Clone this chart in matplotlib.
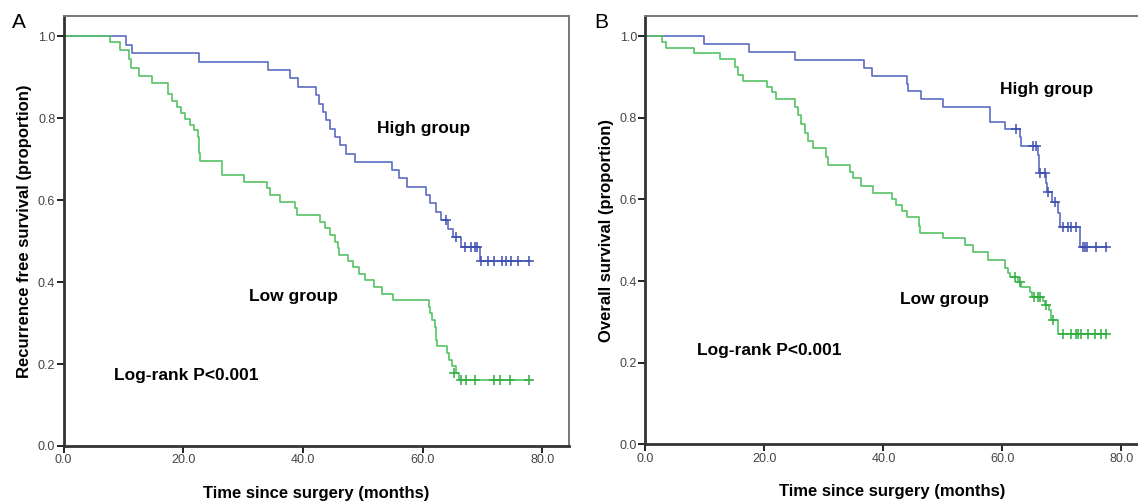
import matplotlib
matplotlib.use("Agg")
import matplotlib.pyplot as plt

plt.rcParams['font.family'] = ['Liberation Sans', 'DejaVu Sans']

# ---- Panel A: recurrence free survival ----
a_high_t = [0, 10.4, 11.5, 22.6, 34.2, 37.9, 39.1, 42.2, 42.7, 43.3, 43.9, 44.6, 45.4, 46.2,
            47.2, 48.7, 54.8, 56.1, 57.4, 60.6, 61.2, 62.2, 63.0, 64.3, 65.0, 66.4, 69.6]
a_high_s = [1.0, 0.979, 0.958, 0.937, 0.917, 0.897, 0.876, 0.856, 0.835, 0.815, 0.795, 0.774, 0.754,
            0.734, 0.713, 0.693, 0.673, 0.653, 0.633, 0.612, 0.592, 0.571, 0.551, 0.530, 0.511, 0.486, 0.452]
a_high_cens_t = [63.9, 65.6, 67.1, 68.0, 68.8, 69.1, 69.8, 70.9, 71.9, 73.2, 74.0, 74.7, 75.9, 77.8]
a_high_cens_s = [0.551, 0.511, 0.486, 0.486, 0.486, 0.486, 0.452, 0.452, 0.452, 0.452, 0.452, 0.452, 0.452, 0.452]

a_low_t = [0, 7.8, 9.5, 11.0, 11.3, 12.6, 14.7, 17.5, 18.1, 18.9, 19.7, 20.3, 21.2, 21.8, 22.4, 22.6,
           22.7, 22.8, 26.5, 30.1, 34.0, 34.5, 36.2, 38.6, 39.0, 42.9, 43.7, 44.5, 45.3, 45.9, 46.1,
           47.5, 48.4, 49.3, 50.3, 51.8, 53.2, 55.1, 61.0, 61.3, 61.6, 62.1, 62.2, 62.3, 62.4, 64.1,
           64.4, 64.9, 65.5, 66.0]
a_low_s = [1.0, 0.985, 0.967, 0.945, 0.922, 0.902, 0.886, 0.860, 0.841, 0.827, 0.812, 0.797, 0.784,
           0.770, 0.755, 0.735, 0.715, 0.695, 0.661, 0.645, 0.629, 0.612, 0.596, 0.580, 0.563, 0.547,
           0.531, 0.514, 0.498, 0.482, 0.467, 0.451, 0.436, 0.420, 0.404, 0.388, 0.372, 0.356, 0.340,
           0.324, 0.308, 0.291, 0.275, 0.259, 0.243, 0.227, 0.210, 0.194, 0.178, 0.161]
a_low_cens_t = [65.3, 66.4, 67.2, 68.7, 71.9, 72.9, 74.6, 77.8]
a_low_cens_s = [0.178, 0.161, 0.161, 0.161, 0.161, 0.161, 0.161, 0.161]

# ---- Panel B: overall survival ----
b_high_t = [0, 9.8, 17.4, 25.1, 36.7, 38.0, 44.0, 44.1, 46.4, 50.0, 57.9, 58.0, 60.4, 62.9, 63.2,
            66.0, 66.1, 66.2, 67.4, 67.5, 68.3, 69.4, 69.7, 73.0]
b_high_s = [1.0, 0.980, 0.961, 0.941, 0.922, 0.902, 0.884, 0.866, 0.847, 0.827, 0.808, 0.790, 0.772,
            0.752, 0.732, 0.710, 0.688, 0.664, 0.641, 0.619, 0.594, 0.566, 0.533, 0.484]
b_high_cens_t = [62.3, 65.2, 65.7, 66.3, 67.2, 67.7, 68.8, 70.2, 71.1, 71.6, 72.3, 73.5, 73.9, 74.3, 75.8, 77.5]
b_high_cens_s = [0.772, 0.732, 0.732, 0.664, 0.664, 0.619, 0.594, 0.533, 0.533, 0.533, 0.533,
                 0.484, 0.484, 0.484, 0.484, 0.484]

b_low_t = [0, 2.8, 3.5, 8.2, 12.5, 15.0, 15.6, 16.4, 20.5, 21.2, 22.0, 25.1, 25.7, 26.2, 26.8, 27.4,
           28.2, 30.4, 30.7, 34.4, 34.9, 36.3, 38.3, 41.4, 42.2, 43.1, 43.9, 45.9, 46.1, 50.1, 53.7,
           55.1, 57.6, 60.4, 61.0, 61.3, 62.7, 63.2, 64.6, 64.9, 66.8, 67.1, 67.9, 68.1, 69.3]
b_low_s = [1.0, 0.986, 0.972, 0.958, 0.944, 0.925, 0.905, 0.890, 0.876, 0.862, 0.847, 0.827, 0.807,
           0.786, 0.764, 0.743, 0.725, 0.703, 0.684, 0.668, 0.652, 0.633, 0.615, 0.600, 0.586, 0.572,
           0.556, 0.535, 0.519, 0.505, 0.488, 0.472, 0.452, 0.432, 0.420, 0.410, 0.398, 0.386, 0.374,
           0.362, 0.352, 0.341, 0.329, 0.305, 0.270]
b_low_cens_t = [62.1, 62.9, 65.4, 66.0, 66.4, 67.3, 68.5, 70.2, 71.6, 72.4, 72.7, 73.3, 74.4, 75.5, 76.6, 77.5]
b_low_cens_s = [0.410, 0.398, 0.362, 0.362, 0.362, 0.341, 0.305, 0.270, 0.270, 0.270, 0.270,
                0.270, 0.270, 0.270, 0.270, 0.270]

x_ticks = [0, 20, 40, 60, 80]
x_ticklabels = ['0.0', '20.0', '40.0', '60.0', '80.0']
y_ticks = [0, 0.2, 0.4, 0.6, 0.8, 1.0]
y_ticklabels = ['0.0', '0.2', '0.4', '0.6', '0.8', '1.0']

BLUE = '#5b6cc4'
BLUE_D = '#3d4fb0'
GREEN = '#55c463'
GREEN_D = '#2fae3f'


def km(ax, t, s, ct, cs, color, dark, t_end):
    tt = list(t) + [t_end]
    ss = list(s) + [s[-1]]
    ax.step(tt, ss, where='post', color=color, lw=1.2)
    ax.plot(ct, cs, linestyle='none', marker='+', ms=7, mew=1.1, color=dark)


def style(ax, xmax, ylabel, right_spine=True):
    ax.set_xlim(0, xmax)
    ax.set_ylim(0, 1.049)
    ax.set_xticks(x_ticks)
    ax.set_xticklabels(x_ticklabels)
    ax.set_yticks(y_ticks)
    ax.set_yticklabels(y_ticklabels)
    ax.tick_params(axis='both', labelsize=9, colors='#222222', labelcolor='#444444',
                   length=5, width=1.4, pad=1)
    for side in ['left', 'bottom']:
        ax.spines[side].set_color('#333333')
        ax.spines[side].set_linewidth(2.0)
    for side in ['top', 'right']:
        ax.spines[side].set_color('#777777')
        ax.spines[side].set_linewidth(1.4)
    if not right_spine:
        ax.spines['right'].set_visible(False)
    ax.set_xlabel('Time since surgery (months)', fontsize=12, fontweight='bold', labelpad=14)
    ax.set_ylabel(ylabel, fontsize=12, fontweight='bold', labelpad=4)


fig = plt.figure(figsize=(11.38, 5.01), dpi=100)

axA = fig.add_axes([0.0559, 0.1098, 0.4438, 0.858])
km(axA, a_high_t, a_high_s, a_high_cens_t, a_high_cens_s, BLUE, BLUE_D, 77.8)
km(axA, a_low_t, a_low_s, a_low_cens_t, a_low_cens_s, GREEN, GREEN_D, 77.8)
style(axA, 84.4, 'Recurrence free survival (proportion)')
axA.text(60.1, 0.776, 'High group', fontsize=12.5, fontweight='bold', ha='center', va='center')
axA.text(38.5, 0.366, 'Low group', fontsize=12.5, fontweight='bold', ha='center', va='center')
axA.text(20.5, 0.173, 'Log-rank P<0.001', fontsize=12.5, fontweight='bold', ha='center', va='center')

axB = fig.add_axes([0.5672, 0.1128, 0.4328, 0.855])
km(axB, b_high_t, b_high_s, b_high_cens_t, b_high_cens_s, BLUE, BLUE_D, 77.5)
km(axB, b_low_t, b_low_s, b_low_cens_t, b_low_cens_s, GREEN, GREEN_D, 77.5)
style(axB, 82.8, 'Overall survival (proportion)', right_spine=False)
axB.text(67.4, 0.870, 'High group', fontsize=12.5, fontweight='bold', ha='center', va='center')
axB.text(50.2, 0.354, 'Low group', fontsize=12.5, fontweight='bold', ha='center', va='center')
axB.text(20.8, 0.231, 'Log-rank P<0.001', fontsize=12.5, fontweight='bold', ha='center', va='center')

fig.text(12 / 1138, 1 - 22 / 501, 'A', fontsize=15, ha='left', va='center')
fig.text(594 / 1138, 1 - 22 / 501, 'B', fontsize=15, ha='left', va='center')

fig.savefig('out.png', dpi=100)
